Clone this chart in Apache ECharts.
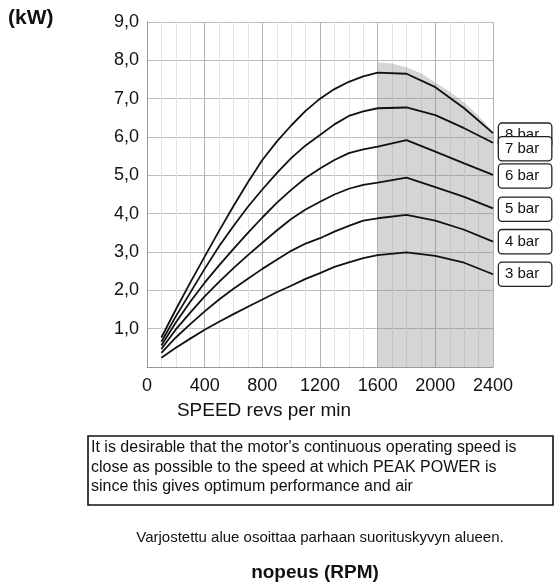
<!DOCTYPE html>
<html>
<head>
<meta charset="utf-8">
<script src="https://cdn.jsdelivr.net/npm/echarts@6/dist/echarts.min.js"></script>
<style>
html,body{margin:0;padding:0;background:#fff;}
#c{width:555px;height:587px;}
</style>
</head>
<body>
<div id="c"></div>
<script>
const rpm  = [100,200,300,400,500,600,700,800,900,1000,1100,1200,1300,1400,1500,1600,1800,2000,2200,2400];
const bar8 = [0.77,1.50,2.20,2.88,3.55,4.20,4.82,5.40,5.88,6.30,6.68,7.00,7.25,7.44,7.58,7.68,7.65,7.30,6.75,6.10];
const bar7 = [0.66,1.32,1.94,2.56,3.15,3.68,4.18,4.63,5.06,5.45,5.78,6.05,6.33,6.55,6.67,6.75,6.77,6.57,6.23,5.85];
const bar6 = [0.56,1.16,1.70,2.20,2.65,3.08,3.50,3.90,4.28,4.62,4.93,5.18,5.40,5.58,5.68,5.75,5.92,5.62,5.31,5.01];
const bar5 = [0.47,0.98,1.42,1.84,2.22,2.58,2.92,3.24,3.56,3.86,4.11,4.31,4.50,4.65,4.75,4.81,4.94,4.69,4.44,4.14];
const bar4 = [0.37,0.77,1.12,1.45,1.76,2.04,2.30,2.56,2.80,3.03,3.22,3.36,3.53,3.68,3.82,3.88,3.97,3.82,3.58,3.27];
const bar3 = [0.24,0.50,0.74,0.97,1.18,1.38,1.57,1.76,1.95,2.12,2.30,2.45,2.61,2.73,2.84,2.92,2.99,2.90,2.72,2.42];
const shadeRpm = [1600,1700,1800,1900,2000,2100,2200,2300,2400];
const shadeTop = [7.95,7.92,7.82,7.66,7.42,7.18,6.90,6.55,6.14];
const xTicks = [0,400,800,1200,1600,2000,2400];
const yTicks = [1,2,3,4,5,6,7,8,9];
const curveNames = ['8 bar','7 bar','6 bar','5 bar','4 bar','3 bar'];
const curves = [bar8,bar7,bar6,bar5,bar4,bar3];
const labelOffsets = [[0,2],[0,6],[0,1],[0,1],[0,0],[0,0]];
const noteLines = [
  "It is desirable that the motor's continuous operating speed is",
  "close as possible to the speed at which PEAK POWER is",
  "since this gives optimum performance and air"
];

const FONT = "'Liberation Sans', Arial, Helvetica, sans-serif";
const chart = echarts.init(document.getElementById('c'), null, {renderer:'canvas'});

const zip = (xs, ys) => xs.map((x,i)=>[x, ys[i]]);

const series = [{
  type:'line',
  data: zip(shadeRpm, shadeTop),
  symbol:'none',
  lineStyle:{width:0, opacity:0},
  areaStyle:{color:'rgba(135,135,135,0.5)', origin:'start'},
  z:1,
  silent:true
}];
curves.forEach((c,i)=>{
  series.push({
    type:'line',
    name:curveNames[i],
    data: zip(rpm, c),
    symbol:'none',
    lineStyle:{color:'#111', width:1.8},
    z:3+i,
    endLabel:{
      show:true,
      formatter:curveNames[i],
      distance:6,
      offset:labelOffsets[i],
      fontFamily:FONT,
      fontSize:15,
      lineHeight:17,
      color:'#111',
      backgroundColor:'#fff',
      borderColor:'#222',
      borderWidth:1.3,
      borderRadius:3,
      padding:[3,12,3,6]
    }
  });
});

const graphics = [
  {type:'text', left:8, top:8, style:{text:'(kW)', font:'bold 21px '+FONT, fill:'#111'}},
  {type:'text', x:264, y:411, style:{text:'SPEED revs per min', font:'19px '+FONT, fill:'#111', align:'center', verticalAlign:'middle', textAlign:'center', textVerticalAlign:'middle'}},
  {type:'rect', shape:{x:88, y:436, width:465, height:69}, style:{fill:'#fff', stroke:'#111', lineWidth:1.6}},
  {type:'text', x:320, y:538, style:{text:'Varjostettu alue osoittaa parhaan suorituskyvyn alueen.', font:'15px '+FONT, fill:'#111', align:'center', verticalAlign:'middle', textAlign:'center', textVerticalAlign:'middle'}},
  {type:'text', x:315, y:573, style:{text:'nopeus (RPM)', font:'bold 19px '+FONT, fill:'#111', align:'center', verticalAlign:'middle', textAlign:'center', textVerticalAlign:'middle'}}
];
noteLines.forEach((t,i)=>{
  graphics.push({type:'text', x:91, y:448 + i*19.5, style:{text:t, font:'16px '+FONT, fill:'#111', align:'left', verticalAlign:'middle', textAlign:'left', textVerticalAlign:'middle'}});
});

chart.setOption({
  animation:false,
  backgroundColor:'#fff',
  grid:{left:147, top:22, width:346, height:345, containLabel:false},
  xAxis:{
    type:'value', min:0, max:2400, interval:400,
    axisLine:{show:true, lineStyle:{color:'#999', width:1}},
    axisTick:{show:false},
    axisLabel:{fontFamily:FONT, fontSize:18, color:'#111', margin:10,
      formatter:v=> xTicks.indexOf(v)>=0 ? String(v) : ''},
    splitLine:{show:true, lineStyle:{color:'#b4b4b4', width:1}},
    minorTick:{show:false, splitNumber:4},
    minorSplitLine:{show:true, lineStyle:{color:'#e3e3e3', width:1}}
  },
  yAxis:{
    type:'value', min:0, max:9, interval:1,
    axisLine:{show:true, lineStyle:{color:'#999', width:1}},
    axisTick:{show:false},
    axisLabel:{fontFamily:FONT, fontSize:18, color:'#111', margin:8,
      formatter:v=> yTicks.indexOf(v)>=0 ? v.toFixed(1).replace('.', ',') : ''},
    splitLine:{show:true, lineStyle:{color:'#bdbdbd', width:1}}
  },
  series:series,
  graphic:graphics
});
</script>
</body>
</html>
